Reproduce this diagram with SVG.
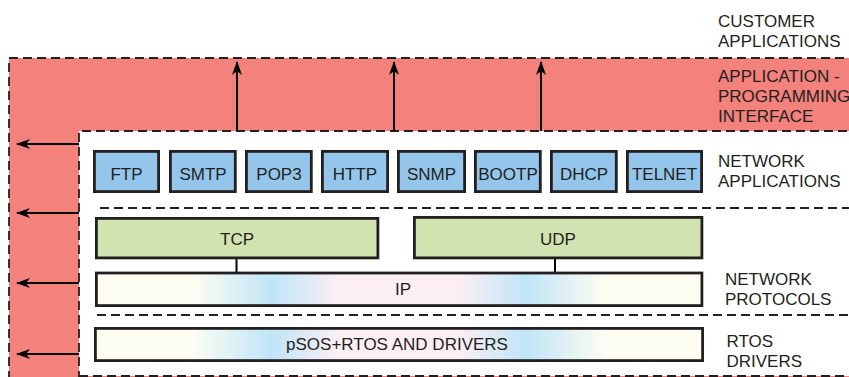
<svg xmlns="http://www.w3.org/2000/svg" width="849" height="377" viewBox="0 0 849 377">
<defs>
<style>
.t{font-family:"Liberation Sans",Arial,sans-serif;font-size:17px;fill:#231f20}
.c{text-anchor:middle}
.box{stroke:#231f20;stroke-width:2.8}
.app{fill:#93c6ea}
.grn{fill:#d0e3b0}
.grad{fill:url(#g)}
.dash{fill:none;stroke:#231f20;stroke-width:1.8;stroke-dasharray:9 5}
.ln{stroke:#000;stroke-width:2;fill:none}
</style>
<linearGradient id="g" x1="0" y1="0" x2="1" y2="0">
<stop offset="0" stop-color="#fdfdf2"/>
<stop offset="0.16" stop-color="#fdfdf2"/>
<stop offset="0.29" stop-color="#c0e5f8"/>
<stop offset="0.40" stop-color="#fbeff4"/>
<stop offset="0.60" stop-color="#fbeff4"/>
<stop offset="0.71" stop-color="#c0e5f8"/>
<stop offset="0.84" stop-color="#fdfdf2"/>
<stop offset="1" stop-color="#fdfdf2"/>
</linearGradient>
<marker id="ah" markerWidth="14" markerHeight="10" refX="13" refY="5" orient="auto" markerUnits="userSpaceOnUse">
<path d="M0,0 L14,5 L0,10 L4,5 Z" fill="#000"/>
</marker>
</defs>

<g id="api-layer">
<rect x="9" y="58" width="850" height="330" fill="#f3817c"/>
<path class="dash" d="M9,380 V58 H849"/>
</g>
<g id="stack-area">
<rect x="79" y="131" width="780" height="245" fill="#fff"/>
<path class="dash" d="M79,380 V131 H849"/>
<path class="dash" d="M79,376 H849"/>
<path class="dash" d="M100,208 H849"/>
<path class="dash" d="M97,315 H849"/>
</g>

<g id="connectors">
<line class="ln" x1="237" y1="131" x2="237" y2="62" marker-end="url(#ah)"/>
<line class="ln" x1="394" y1="131" x2="394" y2="62" marker-end="url(#ah)"/>
<line class="ln" x1="541" y1="131" x2="541" y2="62" marker-end="url(#ah)"/>
<line class="ln" x1="79" y1="144" x2="17" y2="144" marker-end="url(#ah)"/>
<line class="ln" x1="79" y1="213" x2="17" y2="213" marker-end="url(#ah)"/>
<line class="ln" x1="79" y1="283" x2="17" y2="283" marker-end="url(#ah)"/>
<line class="ln" x1="79" y1="354" x2="17" y2="354" marker-end="url(#ah)"/>
<line class="ln" x1="236.5" y1="258" x2="236.5" y2="273"/>
<line class="ln" x1="555" y1="258" x2="555" y2="273"/>
</g>

<g id="ftp"><rect class="box app" x="94.4" y="151.4" width="64.2" height="40.2"/><text class="t c" x="126.5" y="180">FTP</text></g>
<g id="smtp"><rect class="box app" x="170.4" y="151.4" width="64.9" height="40.2"/><text class="t c" x="203" y="180">SMTP</text></g>
<g id="pop3"><rect class="box app" x="246.4" y="151.4" width="64.9" height="40.2"/><text class="t c" x="279" y="180">POP3</text></g>
<g id="http"><rect class="box app" x="322.4" y="151.4" width="65.2" height="40.2"/><text class="t c" x="355" y="180">HTTP</text></g>
<g id="snmp"><rect class="box app" x="398.4" y="151.4" width="66.2" height="40.2"/><text class="t c" x="431.5" y="180">SNMP</text></g>
<g id="bootp"><rect class="box app" x="475.4" y="151.4" width="64.9" height="40.2"/><text class="t c" x="508" y="180">BOOTP</text></g>
<g id="dhcp"><rect class="box app" x="551.4" y="151.4" width="64.9" height="40.2"/><text class="t c" x="584" y="180">DHCP</text></g>
<g id="telnet"><rect class="box app" x="627.4" y="151.4" width="74.2" height="40.2"/><text class="t c" x="664.5" y="180">TELNET</text></g>

<g id="tcp"><rect class="box grn" x="96.4" y="218.4" width="281.5" height="39.5"/><text class="t c" x="237" y="245">TCP</text></g>
<g id="udp"><rect class="box grn" x="414.4" y="217.4" width="287.5" height="40.5"/><text class="t c" x="558" y="245">UDP</text></g>
<g id="ip"><rect class="box grad" x="96.4" y="273" width="605.5" height="32.6"/><text class="t c" x="403" y="295">IP</text></g>
<g id="rtos"><rect class="box grad" x="95.4" y="328.4" width="607.2" height="32.2"/><text class="t c" x="397" y="350">pSOS+RTOS AND DRIVERS</text></g>

<g id="labels">
<text class="t" x="718" y="26.7">CUSTOMER</text>
<text class="t" x="718" y="46.7">APPLICATIONS</text>
<text class="t" x="718" y="81.7">APPLICATION -</text>
<text class="t" x="718" y="101.7">PROGRAMMING</text>
<text class="t" x="718" y="121.7">INTERFACE</text>
<text class="t" x="718" y="166.7">NETWORK</text>
<text class="t" x="718" y="186.7">APPLICATIONS</text>
<text class="t" x="725" y="285">NETWORK</text>
<text class="t" x="725" y="305">PROTOCOLS</text>
<text class="t" x="726.5" y="346.7">RTOS</text>
<text class="t" x="726.5" y="366.7">DRIVERS</text>
</g>
</svg>
